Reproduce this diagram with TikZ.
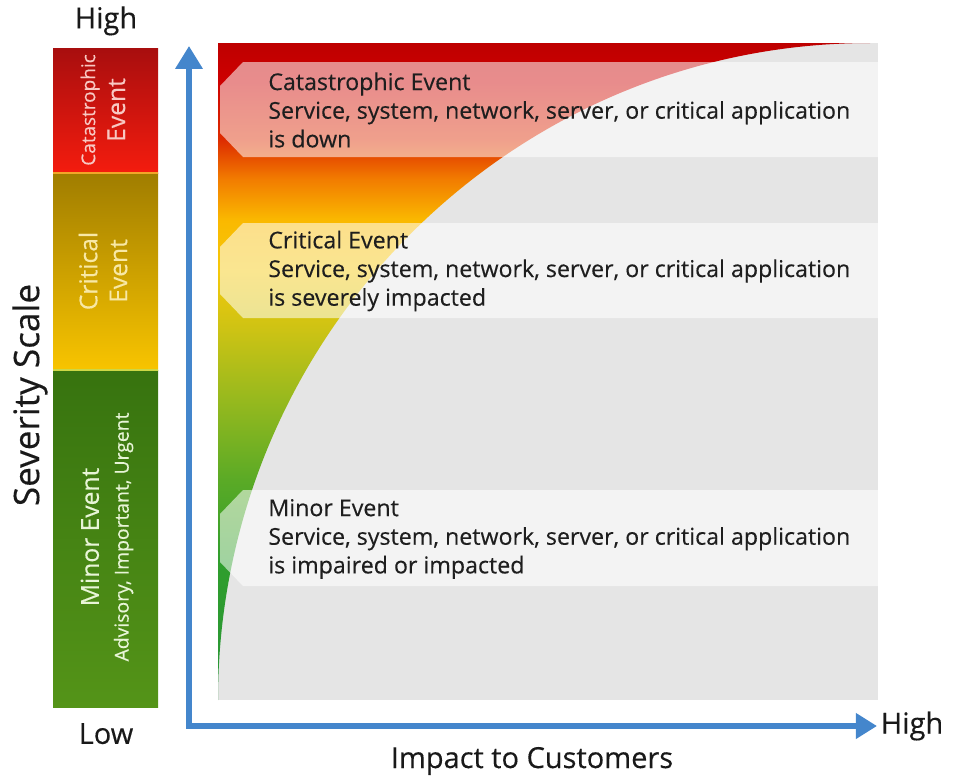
\documentclass[tikz,border=0pt]{standalone}
\usepackage{fontspec}
\setmainfont{Open Sans}[FakeBold=0.3]
\usetikzlibrary{positioning}
\usetikzlibrary{arrows.meta}

\definecolor{axisblue}{RGB}{68,134,204}
\definecolor{panelgrey}{RGB}{229,229,229}
\definecolor{inkgrey}{RGB}{30,30,30}
\definecolor{heatA}{RGB}{40,150,55}
\definecolor{heatB}{RGB}{48,158,45}
\definecolor{heatC}{RGB}{90,170,38}
\definecolor{heatD}{RGB}{150,185,30}
\definecolor{heatE}{RGB}{205,195,20}
\definecolor{heatF}{RGB}{245,200,10}
\definecolor{heatG}{RGB}{250,185,0}
\definecolor{heatH}{RGB}{242,125,0}
\definecolor{heatI}{RGB}{222,45,0}
\definecolor{heatJ}{RGB}{205,0,0}
\definecolor{heatK}{RGB}{190,0,0}
\definecolor{catpink}{RGB}{248,200,195}
\definecolor{critpale}{RGB}{248,232,165}
\definecolor{minorpale}{RGB}{232,245,215}
\definecolor{redtop}{RGB}{168,14,14}
\definecolor{redmid}{RGB}{228,22,16}
\definecolor{redbot}{RGB}{244,28,14}
\definecolor{yeltop}{RGB}{160,125,0}
\definecolor{yelmid}{RGB}{228,172,0}
\definecolor{yelbot}{RGB}{248,196,0}
\definecolor{grntop}{RGB}{55,115,15}
\definecolor{grnmid}{RGB}{98,168,30}
\definecolor{grnbot}{RGB}{84,148,24}
\definecolor{seamorange}{RGB}{242,165,40}
\definecolor{seamlime}{RGB}{205,215,70}
\pgfdeclareverticalshading{heatshade}{100bp}{color(0bp)=(heatA); color(25bp)=(heatA); color(35.7bp)=(heatB); color(41.7bp)=(heatC); color(47.8bp)=(heatD); color(53.2bp)=(heatE); color(57.7bp)=(heatF); color(61.5bp)=(heatG); color(64.6bp)=(heatH); color(67.6bp)=(heatI); color(72.2bp)=(heatJ); color(75bp)=(heatK); color(100bp)=(heatK)}

\tikzset{
  bandtext/.style={anchor=west, inner sep=0pt, align=left, text=inkgrey, font=\fontsize{13.2}{16.3}\selectfont},
  barlabel/.style={rotate=90, inner sep=0pt, align=center, font=\fontsize{14}{17}\selectfont},
  axislabel/.style={inner sep=0pt, text=black!90, font=\fontsize{16.5}{19}\selectfont},
  axisline/.style={draw=axisblue, line width=3pt, line join=miter, {Triangle[length=13pt,width=15pt]}-{Triangle[length=12pt,width=14pt]}}
}
\newcommand{\evtband}[2]{\fill[white, opacity=.55] (243,#1) -- (220,#1+24) -- (220,#2-24) -- (243,#2) -- (878,#2) -- (878,#1) -- cycle;}

\begin{document}
\begin{tikzpicture}[x=0.02cm,y=-0.02cm]
\useasboundingbox (0,0) rectangle (958,782);
% impact panel
\fill[panelgrey] (218,43) rectangle (878,700);
\shade[shading=heatshade] (218,43) -- (870,43) arc[start angle=-90, end angle=-180, x radius=652, y radius=657] -- cycle;
\evtband{62}{157} \evtband{223}{318} \evtband{490}{586}
\node[bandtext] (cattext) at (268,110) {Catastrophic Event\\Service, system, network, server, or critical application\\is down};
\node[bandtext] (crittext) at (268,271) {Critical Event\\Service, system, network, server, or critical application\\is severely impacted};
\node[bandtext] (mintext) at (268,539) {Minor Event\\Service, system, network, server, or critical application\\is impaired or impacted};

% severity bar
\shade[top color=redtop, middle color=redmid, bottom color=redbot] (53,48) rectangle (158,173);
\shade[top color=yeltop, middle color=yelmid, bottom color=yelbot] (53,173) rectangle (158,370);
\shade[top color=grntop, middle color=grnmid, bottom color=grnbot] (53,370) rectangle (158,707);
\draw[seamorange, line width=.6pt] (53,173) -- (158,173);
\draw[seamlime, line width=.6pt] (53,370) -- (158,370);
\node[barlabel, text=catpink] (catbar) at (103,110) {{\fontsize{10.8}{17}\selectfont Catastrophic}\\Event};
\node[barlabel, text=critpale] (critbar) at (103,271) {Critical\\Event};
\node[barlabel, text=minorpale] (minbar) at (107,537) {Minor Event\\{\fontsize{11}{17}\selectfont Advisory, Important, Urgent}};

% axes
\coordinate (origin) at (189,726); \coordinate (ytip) at (189,46); \coordinate (xtip) at (877,726);
\draw[axisline] (ytip) -- (origin) -- (xtip);
\coordinate (bartop) at (106,48); \coordinate (barbot) at (106,707);
\node[axislabel, above=7pt of bartop] (yhigh) {High};
\node[axislabel, below=9pt of barbot] (ylow) {Low};
\node[axislabel, right=2pt of xtip] (xhigh) {High};
\node[axislabel, anchor=base] (xname) at (532,768) {Impact to Customers};
\node[axislabel, rotate=90, font=\fontsize{20}{24}\selectfont] (yname) at (30,395) {Severity Scale};
\end{tikzpicture}
\end{document}
